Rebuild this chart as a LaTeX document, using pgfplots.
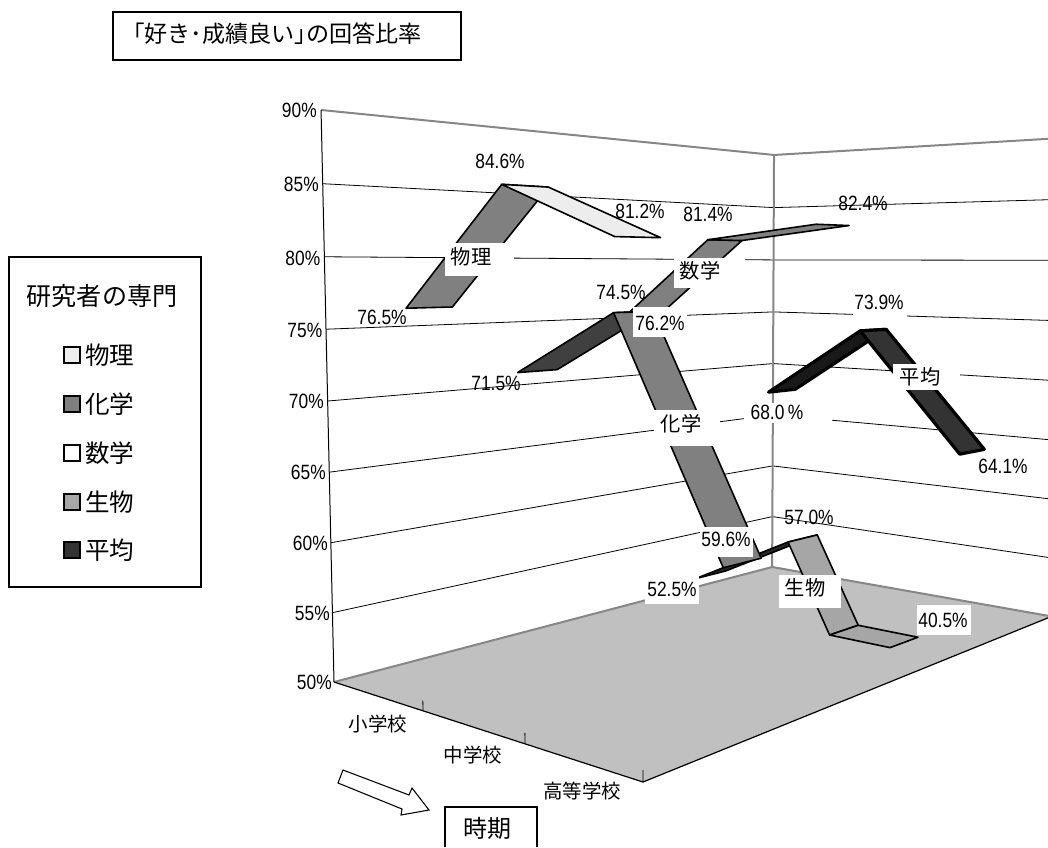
\documentclass[border=0pt]{standalone}
\usepackage{fontspec}
\usepackage{pgfplots}
\pgfplotsset{compat=1.18}
\setmainfont{Liberation Sans}[FakeStretch=0.84]
\newfontfamily\jp{Noto Sans CJK JP}
\definecolor{wallgray}{HTML}{868686}
\definecolor{floorgray}{HTML}{C0C0C0}

% One flat face of a ribbon: series slot #2, category positions #3 and #5, percentages #4 and #6
\newcommand{\seg}[6]{%
  \addplot[#1, line join=round] table[row sep=\\,
      x expr={px(\thisrow{u},\thisrow{s},pw(\thisrow{p}))},
      y expr={py(\thisrow{u},\thisrow{s},pw(\thisrow{p}))}] {
    u s p\\
    #3 #2+0.3 #4\\
    #5 #2+0.3 #6\\
    #5 #2+0.7 #6\\
    #3 #2+0.7 #4\\
  } -- cycle;}
% A line in the chart box, given by category position, depth and percentage
\newcommand{\boxline}[2]{%
  \addplot[#1] table[row sep=\\,
      x expr={px(\thisrow{u},\thisrow{s},pw(\thisrow{p}))},
      y expr={py(\thisrow{u},\thisrow{s},pw(\thisrow{p}))}] {
    u s p\\ #2
  };}
\newcommand{\gridat}[1]{\boxline{black, line width=0.6pt}{0 0 #1\\ 0 5 #1\\ 3 5 #1\\}}
\newcommand{\ticklab}[3]{\node[anchor=east, inner sep=0pt, font=\fontsize{15.5}{16}\selectfont] at (#1,#2) {#3};}
\newcommand{\val}[3]{\node[inner sep=0pt, font=\fontsize{15.5}{16}\selectfont] at (#1,#2) {#3};}
\newcommand{\jpname}[6]{\fill[white] (#1,#2) rectangle (#3,#4);
  \node[inner sep=0pt, font=\jp\fontsize{15.2}{16}\selectfont] at (#5) {#6};}
\newcommand{\swatch}[4]{\draw[fill=#2, line width=#3] (64,#1-8) rectangle (80,#1+8);
  \node[anchor=west, inner sep=0pt, font=\jp\fontsize{18.4}{19}\selectfont] at (85,#1) {#4};}

\begin{document}
\begin{tikzpicture}
\begin{axis}[
  scale only axis, width=786pt, height=635.25pt,
  xmin=0, xmax=1048, ymin=0, ymax=847, y dir=reverse,
  hide axis, no markers,
  declare function={
    dn(\u,\s,\w)=1-0.0636*\u+0.0769*\s-0.0344*\w;
    px(\u,\s,\w)=(334+62.1*\u+147*\s-24*\w)/dn(\u,\s,\w);
    py(\u,\s,\w)=(682-16.4*\u+20.6*\s-575.8*\w)/dn(\u,\s,\w);
    pw(\p)=max(\p-50,0)/40;
  },
]
% Full page extent
\path (0,0) rectangle (1048,847);
% Floor
\addplot[fill=floorgray, draw=none] table[row sep=\\,
    x expr={px(\thisrow{u},\thisrow{s},0)}, y expr={py(\thisrow{u},\thisrow{s},0)}] {
  u s\\ 0 0\\ 3 0\\ 3 5\\ 0 5\\
} -- cycle;
% Gridlines on the two walls
\gridat{55}\gridat{60}\gridat{65}\gridat{70}\gridat{75}\gridat{80}\gridat{85}
% Wall edges
\boxline{wallgray, line width=1.5pt}{0 0 90\\ 0 5 90\\ 3 5 90\\}
\boxline{wallgray, line width=1.5pt}{0 5 90\\ 0 5 50\\}
\boxline{wallgray, line width=1.5pt}{0 0 50\\ 0 5 50\\ 3 5 50\\}
\boxline{black, line width=0.75pt}{0 0 50\\ 0 0 90\\}
\boxline{black, line width=0.9pt}{0 0 50\\ 3 0 50\\ 3 5 50\\}
\boxline{black, line width=0.6pt}{1 0 50\\ 1 0 50.7\\}
\boxline{black, line width=0.6pt}{2 0 50\\ 2 0 50.7\\}
\boxline{black, line width=0.6pt}{3 0 50\\ 3 0 50.7\\}

% Ribbons, farthest series first: average
\seg{fill=black!90, draw=black, line width=2.4pt}{4}{0.5}{68.0}{1.5}{73.9}
\seg{fill=black!80, draw=black, line width=2.4pt}{4}{1.5}{73.9}{2.5}{64.1}
% Biology: it leaves the box through the floor, so its last part lies flat at 50
\seg{fill=black!85, draw=black, line width=1.2pt}{3}{0.5}{52.5}{1.5}{57.0}
\seg{fill=black!35, draw=black, line width=1.2pt}{3}{1.5}{57.0}{1.924}{50}
\seg{fill=black!35, draw=black, line width=1.2pt}{3}{1.924}{50}{2.5}{40.5}
% Mathematics
\seg{fill=black!50, draw=black, line width=1.2pt}{2}{0.5}{74.5}{1.5}{81.4}
\seg{fill=black!50, draw=black, line width=1.2pt}{2}{1.5}{81.4}{2.5}{82.4}
% Chemistry
\seg{fill=black!75, draw=black, line width=1.2pt}{1}{0.5}{71.5}{1.5}{76.2}
\seg{fill=black!50, draw=black, line width=1.2pt}{1}{1.5}{76.2}{2.5}{59.6}
% Physics
\seg{fill=black!50, draw=black, line width=1.2pt}{0}{0.5}{76.5}{1.5}{84.6}
\seg{fill=black!7, draw=black, line width=1.2pt}{0}{1.5}{84.6}{2.5}{81.2}

% Percent scale
\ticklab{317}{110}{90\%}\ticklab{319}{184}{85\%}\ticklab{320.5}{258}{80\%}
\ticklab{322.5}{330}{75\%}\ticklab{324}{401}{70\%}\ticklab{326}{472}{65\%}
\ticklab{328}{543}{60\%}\ticklab{330}{613}{55\%}\ticklab{332}{682}{50\%}
% Category names
\node[inner sep=0pt, font=\jp\fontsize{14.6}{15}\selectfont] at (378,724) {小学校};
\node[inner sep=0pt, font=\jp\fontsize{14.6}{15}\selectfont] at (473,755) {中学校};
\node[inner sep=0pt, font=\jp\fontsize{14.6}{15}\selectfont] at (582,791) {高等学校};

% Value labels without a plate
\val{500}{161}{84.6\%}\val{382}{317}{76.5\%}\val{640}{211}{81.2\%}
\val{708}{214}{81.4\%}\val{863}{203}{82.4\%}\val{621}{292}{74.5\%}
\val{496}{383}{71.5\%}\val{1003}{466}{64.1\%}\val{809}{517}{57.0\%}
% Value labels on a white plate
\fill[white] (633,307) rectangle (687,337); \val{660}{323}{76.2\%}
\fill[white] (853,288) rectangle (907,318); \val{879}{302}{73.9\%}
\fill[white] (744,403) rectangle (832,423); \val{777}{412}{68.0\,\%}
\fill[white] (700,527) rectangle (753,557); \val{726}{539}{59.6\%}
\fill[white] (645,575) rectangle (699,604); \val{672}{589}{52.5\%}
\fill[white] (917,605) rectangle (971,635); \val{943}{620}{40.5\%}
% Series names on white plates
\jpname{445}{243}{514}{276}{471,257}{物理}
\jpname{674}{258}{745}{288}{700,271}{数学}
\jpname{654}{410}{720}{446}{681,424}{化学}
\jpname{893}{364}{960}{390}{920,377}{平均}
\jpname{779}{575}{841}{608}{805,588}{生物}

% Title box
\draw[line width=0.9pt, fill=white] (113,12) rectangle (461,60);
\node[anchor=west, inner sep=0pt, font=\jp\fontsize{17.3}{18}\selectfont] at (133,34) {｢好き･成績良い｣の回答比率};
% Legend
\draw[line width=0.9pt, fill=white] (9,257) rectangle (201,587);
\node[inner sep=0pt, font=\jp\fontsize{18.8}{19}\selectfont] at (102,296) {研究者の専門};
\swatch{355}{black!7}{1pt}{物理}
\swatch{404}{black!50}{1pt}{化学}
\swatch{453}{white}{1pt}{数学}
\swatch{502}{black!35}{1pt}{生物}
\swatch{550}{black!80}{2pt}{平均}
% Arrow and axis caption
\draw[line width=0.8pt, fill=white] (343,770) -- (338,783) -- (402,809) -- (401,815) -- (429,810) -- (412,788) -- (409,795) -- cycle;
\draw[line width=0.9pt] (445,847) -- (445,807) -- (537,807) -- (537,847);
\node[inner sep=0pt, font=\jp\fontsize{18}{19}\selectfont] at (487,828) {時期};
\end{axis}
\end{tikzpicture}
\end{document}
